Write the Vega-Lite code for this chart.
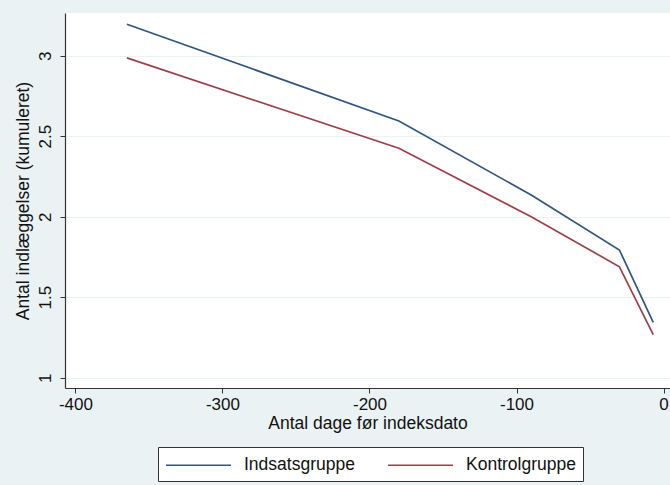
{
  "$schema": "https://vega.github.io/schema/vega-lite/v6.json",
  "autosize": {"type": "none"},
  "width": 605,
  "height": 375,
  "padding": {"left": 65, "top": 13, "right": 0, "bottom": 97},
  "background": "#eaf2f3",
  "config": {
    "font": "Liberation Sans",
    "view": {"fill": "white", "stroke": null}
  },
  "data": {
    "values": [
      {"dage": -365, "antal": 3.195, "gruppe": "Indsatsgruppe"},
      {"dage": -180, "antal": 2.594, "gruppe": "Indsatsgruppe"},
      {"dage": -90, "antal": 2.135, "gruppe": "Indsatsgruppe"},
      {"dage": -30, "antal": 1.793, "gruppe": "Indsatsgruppe"},
      {"dage": -7, "antal": 1.344, "gruppe": "Indsatsgruppe"},
      {"dage": -365, "antal": 2.986, "gruppe": "Kontrolgruppe"},
      {"dage": -180, "antal": 2.425, "gruppe": "Kontrolgruppe"},
      {"dage": -90, "antal": 2.0, "gruppe": "Kontrolgruppe"},
      {"dage": -30, "antal": 1.689, "gruppe": "Kontrolgruppe"},
      {"dage": -7, "antal": 1.268, "gruppe": "Kontrolgruppe"}
    ]
  },
  "mark": {"type": "line", "strokeWidth": 1.7, "clip": true},
  "encoding": {
    "x": {
      "field": "dage", "type": "quantitative",
      "scale": {"domain": [-407.1, 4.4], "nice": false, "zero": false},
      "axis": {
        "title": "Antal dage før indeksdato",
        "values": [-400, -300, -200, -100, 0],
        "labelExpr": "toString(datum.value)",
        "grid": false,
        "domainColor": "#333333", "domainWidth": 1.2,
        "tickColor": "#333333", "tickSize": 5,
        "labelFontSize": 17, "labelColor": "#111111", "labelPadding": 3,
        "labelFlush": false, "labelOverlap": false,
        "titleFontSize": 17.5, "titleFontWeight": "normal", "titleColor": "#111111", "titlePadding": 2
      }
    },
    "y": {
      "field": "antal", "type": "quantitative",
      "scale": {"domain": [0.936, 3.265], "nice": false, "zero": false},
      "axis": {
        "title": "Antal indlæggelser (kumuleret)",
        "values": [1, 1.5, 2, 2.5, 3],
        "labelExpr": "toString(datum.value)",
        "grid": true, "gridColor": "#eaf2f3", "gridWidth": 1.2,
        "domainColor": "#333333", "domainWidth": 1.2,
        "tickColor": "#333333", "tickSize": 5,
        "labelAngle": -90, "labelAlign": "center", "labelBaseline": "bottom",
        "labelFontSize": 17, "labelColor": "#111111", "labelPadding": 6,
        "labelFlush": false, "labelOverlap": false,
        "titleFontSize": 17.5, "titleFontWeight": "normal", "titleColor": "#111111", "titlePadding": 4
      }
    },
    "color": {
      "field": "gruppe", "type": "nominal",
      "scale": {"domain": ["Indsatsgruppe", "Kontrolgruppe"], "range": ["#2f5580", "#9c4048"]},
      "legend": {
        "title": null,
        "orient": "none",
        "legendX": 93,
        "legendY": 434,
        "direction": "horizontal",
        "symbolType": "M-1,0H5.5",
        "symbolSize": 400,
        "symbolStrokeWidth": 1.7,
        "labelFontSize": 17.5,
        "labelColor": "#111111",
        "labelOffset": 57,
        "columnPadding": 29,
        "padding": 7,
        "fillColor": "white",
        "strokeColor": "#333333"
      }
    }
  }
}
